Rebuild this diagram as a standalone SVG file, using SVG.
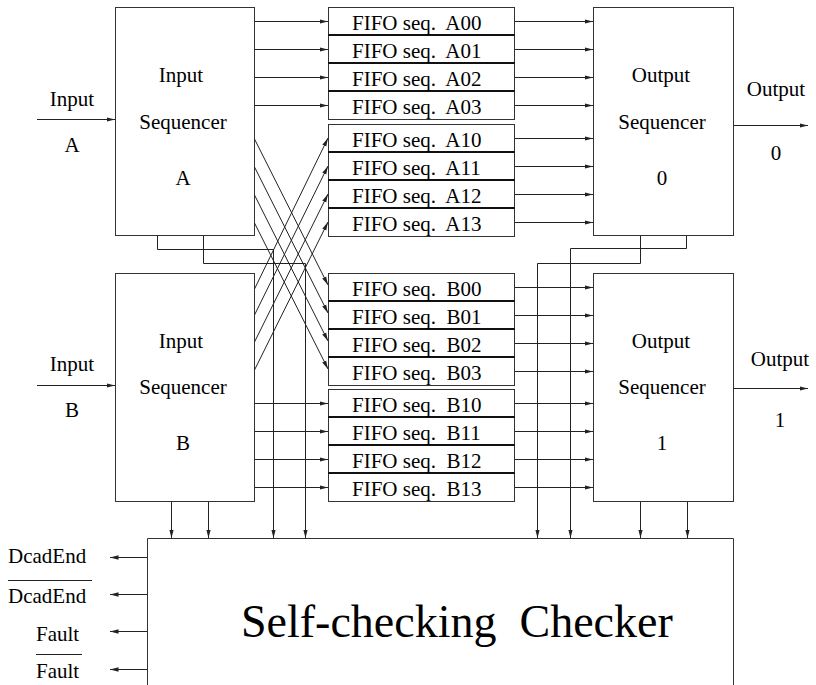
<svg xmlns="http://www.w3.org/2000/svg" width="816" height="685" viewBox="0 0 816 685">
<defs>
<marker id="ah" markerUnits="userSpaceOnUse" markerWidth="9" markerHeight="6" refX="8.5" refY="3" orient="auto">
<path d="M0,0.8 L8.5,3 L0,5.2 Z" fill="#222"/>
</marker>
<style>
.box{fill:#fff;stroke:#333;stroke-width:1}
.sep{stroke:#111;stroke-width:2}
.t{font-family:"Liberation Serif","Times New Roman",serif;font-size:21px;fill:#000}
.m{text-anchor:middle}
.w{stroke:#222;stroke-width:1;fill:none}
.a{stroke:#222;stroke-width:1;fill:none;marker-end:url(#ah)}
.big{font-family:"Liberation Serif","Times New Roman",serif;font-size:46px;fill:#000}
</style>
</defs>
<rect width="816" height="685" fill="#fff"/>

<g id="input-seq-a">
<rect class="box" x="115.5" y="7.5" width="139" height="228"/>
<text class="t m" x="181" y="82">Input</text>
<text class="t m" x="183" y="129">Sequencer</text>
<text class="t m" x="183" y="185">A</text>
</g>
<g id="input-seq-b">
<rect class="box" x="115.5" y="273.5" width="139" height="228"/>
<text class="t m" x="181" y="348">Input</text>
<text class="t m" x="183" y="394">Sequencer</text>
<text class="t m" x="183" y="450">B</text>
</g>
<g id="output-seq-0">
<rect class="box" x="593.5" y="7.5" width="140" height="228"/>
<text class="t m" x="661" y="82">Output</text>
<text class="t m" x="662" y="129">Sequencer</text>
<text class="t m" x="662" y="185">0</text>
</g>
<g id="output-seq-1">
<rect class="box" x="593.5" y="273.5" width="140" height="228"/>
<text class="t m" x="661" y="348">Output</text>
<text class="t m" x="662" y="394">Sequencer</text>
<text class="t m" x="662" y="450">1</text>
</g>

<g id="fifo-a0">
<rect class="box" x="328.5" y="7.5" width="186" height="112"/>
<line class="sep" x1="328" y1="35" x2="515" y2="35"/>
<line class="sep" x1="328" y1="63" x2="515" y2="63"/>
<line class="sep" x1="328" y1="91" x2="515" y2="91"/>
<text class="t" x="352" y="30" xml:space="preserve">FIFO seq.  A00</text>
<text class="t" x="352" y="58" xml:space="preserve">FIFO seq.  A01</text>
<text class="t" x="352" y="86" xml:space="preserve">FIFO seq.  A02</text>
<text class="t" x="352" y="114" xml:space="preserve">FIFO seq.  A03</text>
</g>
<g id="fifo-a1">
<rect class="box" x="328.5" y="124.5" width="186" height="112"/>
<line class="sep" x1="328" y1="152" x2="515" y2="152"/>
<line class="sep" x1="328" y1="180" x2="515" y2="180"/>
<line class="sep" x1="328" y1="208" x2="515" y2="208"/>
<text class="t" x="352" y="147" xml:space="preserve">FIFO seq.  A10</text>
<text class="t" x="352" y="175" xml:space="preserve">FIFO seq.  A11</text>
<text class="t" x="352" y="203" xml:space="preserve">FIFO seq.  A12</text>
<text class="t" x="352" y="231" xml:space="preserve">FIFO seq.  A13</text>
</g>
<g id="fifo-b0">
<rect class="box" x="328.5" y="273.5" width="186" height="112"/>
<line class="sep" x1="328" y1="301" x2="515" y2="301"/>
<line class="sep" x1="328" y1="329" x2="515" y2="329"/>
<line class="sep" x1="328" y1="357" x2="515" y2="357"/>
<text class="t" x="352" y="296" xml:space="preserve">FIFO seq.  B00</text>
<text class="t" x="352" y="324" xml:space="preserve">FIFO seq.  B01</text>
<text class="t" x="352" y="352" xml:space="preserve">FIFO seq.  B02</text>
<text class="t" x="352" y="380" xml:space="preserve">FIFO seq.  B03</text>
</g>
<g id="fifo-b1">
<rect class="box" x="328.5" y="389.5" width="186" height="112"/>
<line class="sep" x1="328" y1="417" x2="515" y2="417"/>
<line class="sep" x1="328" y1="445" x2="515" y2="445"/>
<line class="sep" x1="328" y1="473" x2="515" y2="473"/>
<text class="t" x="352" y="412" xml:space="preserve">FIFO seq.  B10</text>
<text class="t" x="352" y="440" xml:space="preserve">FIFO seq.  B11</text>
<text class="t" x="352" y="468" xml:space="preserve">FIFO seq.  B12</text>
<text class="t" x="352" y="496" xml:space="preserve">FIFO seq.  B13</text>
</g>

<g id="checker">
<path class="box" d="M147.5,690 V538.5 H733.5 V690"/>
<text class="big" x="241" y="637" xml:space="preserve">Self-checking  Checker</text>
</g>

<g id="io-labels">
<text class="t m" x="72" y="106">Input</text>
<text class="t m" x="72" y="152">A</text>
<text class="t m" x="72" y="371">Input</text>
<text class="t m" x="72" y="417">B</text>
<text class="t m" x="776" y="96">Output</text>
<text class="t m" x="776" y="160">0</text>
<text class="t m" x="780" y="366">Output</text>
<text class="t m" x="780" y="427">1</text>
<text class="t" x="8" y="563">DcadEnd</text>
<line class="w" x1="8" y1="580.5" x2="92" y2="580.5"/>
<text class="t" x="8" y="603">DcadEnd</text>
<text class="t" x="36" y="641">Fault</text>
<line class="w" x1="36" y1="654.5" x2="82" y2="654.5"/>
<text class="t" x="36" y="678">Fault</text>
</g>

<g id="connectors">
<!-- inputs / outputs -->
<line class="a" x1="37" y1="119.5" x2="115" y2="119.5"/>
<line class="a" x1="37" y1="385.5" x2="115" y2="385.5"/>
<line class="a" x1="734" y1="125.5" x2="808" y2="125.5"/>
<line class="a" x1="734" y1="388.5" x2="808" y2="388.5"/>
<!-- seq A to FIFO A0x -->
<line class="a" x1="255" y1="21.5" x2="328" y2="21.5"/>
<line class="a" x1="255" y1="49.5" x2="328" y2="49.5"/>
<line class="a" x1="255" y1="77.5" x2="328" y2="77.5"/>
<line class="a" x1="255" y1="105.5" x2="328" y2="105.5"/>
<!-- seq B to FIFO B1x -->
<line class="a" x1="255" y1="403.5" x2="328" y2="403.5"/>
<line class="a" x1="255" y1="431.5" x2="328" y2="431.5"/>
<line class="a" x1="255" y1="459.5" x2="328" y2="459.5"/>
<line class="a" x1="255" y1="487.5" x2="328" y2="487.5"/>
<!-- crossings A -> B0x -->
<line class="a" x1="254.5" y1="139" x2="328" y2="285"/>
<line class="a" x1="254.5" y1="167" x2="328" y2="313"/>
<line class="a" x1="254.5" y1="195" x2="328" y2="341"/>
<line class="a" x1="254.5" y1="223" x2="328" y2="369"/>
<!-- crossings B -> A1x -->
<line class="a" x1="254.5" y1="289" x2="328" y2="138"/>
<line class="a" x1="254.5" y1="315" x2="328" y2="166"/>
<line class="a" x1="254.5" y1="342" x2="328" y2="194"/>
<line class="a" x1="254.5" y1="370" x2="328" y2="222"/>
<!-- FIFOs to output sequencers -->
<line class="a" x1="515" y1="21.5" x2="593" y2="21.5"/>
<line class="a" x1="515" y1="49.5" x2="593" y2="49.5"/>
<line class="a" x1="515" y1="77.5" x2="593" y2="77.5"/>
<line class="a" x1="515" y1="105.5" x2="593" y2="105.5"/>
<line class="a" x1="515" y1="138.5" x2="593" y2="138.5"/>
<line class="a" x1="515" y1="166.5" x2="593" y2="166.5"/>
<line class="a" x1="515" y1="194.5" x2="593" y2="194.5"/>
<line class="a" x1="515" y1="222.5" x2="593" y2="222.5"/>
<line class="a" x1="515" y1="287.5" x2="593" y2="287.5"/>
<line class="a" x1="515" y1="315.5" x2="593" y2="315.5"/>
<line class="a" x1="515" y1="343.5" x2="593" y2="343.5"/>
<line class="a" x1="515" y1="371.5" x2="593" y2="371.5"/>
<line class="a" x1="515" y1="403.5" x2="593" y2="403.5"/>
<line class="a" x1="515" y1="431.5" x2="593" y2="431.5"/>
<line class="a" x1="515" y1="459.5" x2="593" y2="459.5"/>
<line class="a" x1="515" y1="487.5" x2="593" y2="487.5"/>
<!-- to checker -->
<path class="a" d="M157.5,236 V249.5 H273.5 V538"/>
<path class="a" d="M203.5,236 V263.5 H305.5 V538"/>
<line class="a" x1="171.5" y1="502" x2="171.5" y2="538"/>
<line class="a" x1="208.5" y1="502" x2="208.5" y2="538"/>
<path class="a" d="M640.5,236 V263.5 H537.5 V538"/>
<path class="a" d="M686.5,236 V248.5 H570.5 V538"/>
<line class="a" x1="640.5" y1="502" x2="640.5" y2="538"/>
<line class="a" x1="687.5" y1="502" x2="687.5" y2="538"/>
<!-- checker outputs -->
<line class="a" x1="147" y1="557.5" x2="110" y2="557.5"/>
<line class="a" x1="147" y1="594.5" x2="110" y2="594.5"/>
<line class="a" x1="147" y1="631.5" x2="110" y2="631.5"/>
<line class="a" x1="147" y1="669.5" x2="110" y2="669.5"/>
</g>
</svg>
